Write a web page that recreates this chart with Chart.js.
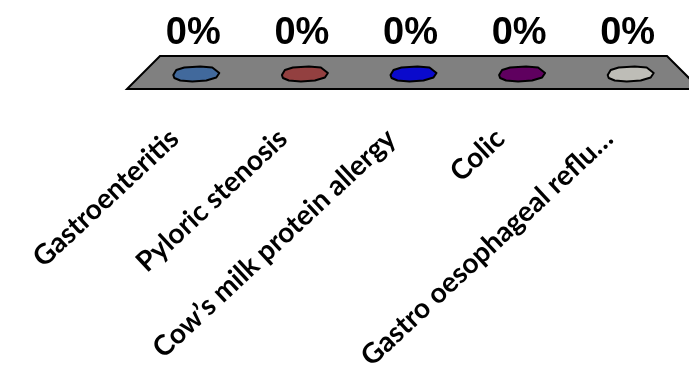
<!DOCTYPE html>
<html>
<head>
<meta charset="utf-8">
<script src="https://cdn.jsdelivr.net/npm/chart.js@4.4.1/dist/chart.umd.min.js"></script>
<style>
  html, body { margin: 0; padding: 0; background: #ffffff; }
  #wrap { width: 689px; height: 376px; position: relative; }
</style>
</head>
<body>
<div id="wrap"><canvas id="chart"></canvas></div>
<script>
// Poll answers and their share of votes (percent)
const categories = [
  "Gastroenteritis",
  "Pyloric stenosis",
  "Cow\u2019s milk protein allergy",
  "Colic",
  "Gastro oesophageal reflu\u2026"
];
const votes = [0, 0, 0, 0, 0];
const barColors = ["#41699c", "#934040", "#0a0acc", "#5f005f", "#bebdb7"];

// Outline of the flat bar top that sits on the floor (offsets from bar centre)
const TOP_SHAPE = [
  [-23, 1], [-20, -4], [-12, -6.5], [4, -7.5], [16, -6.5], [23, -1],
  [20, 3.5], [10, 6.5], [-4, 7.5], [-16, 6.5], [-22, 4]
];

// Floor of the 3-D plot plus flat bar tops and percentage labels
const floorPlugin = {
  id: 'floor3d',
  beforeDatasetsDraw(chart) {
    const { ctx, chartArea } = chart;
    const base = chart.scales.y.getPixelForValue(0);
    const back = 18, front = 15;
    ctx.save();
    ctx.beginPath();
    ctx.moveTo(chartArea.left + back, base - back);
    ctx.lineTo(chartArea.right - back, base - back);
    ctx.lineTo(chartArea.right + front, base + front);
    ctx.lineTo(chartArea.left - front, base + front);
    ctx.closePath();
    ctx.fillStyle = '#808080';
    ctx.fill();
    ctx.lineWidth = 2;
    ctx.strokeStyle = '#000000';
    ctx.lineJoin = 'miter';
    ctx.stroke();
    ctx.restore();
  },
  afterDatasetsDraw(chart) {
    const { ctx } = chart;
    const meta = chart.getDatasetMeta(0);
    const ds = chart.data.datasets[0];
    ctx.save();
    meta.data.forEach((bar, i) => {
      const cx = bar.x, cy = bar.y;
      ctx.beginPath();
      TOP_SHAPE.forEach(([dx, dy], k) => {
        if (k === 0) ctx.moveTo(cx + dx, cy + dy);
        else ctx.lineTo(cx + dx, cy + dy);
      });
      ctx.closePath();
      ctx.fillStyle = barColors[i];
      ctx.fill();
      ctx.lineWidth = 2;
      ctx.lineJoin = 'round';
      ctx.strokeStyle = '#000000';
      ctx.stroke();

      ctx.fillStyle = '#000000';
      ctx.font = 'bold 38px "Liberation Sans", Arial, sans-serif';
      ctx.textAlign = 'center';
      ctx.textBaseline = 'alphabetic';
      ctx.fillText(ds.data[i] + '%', cx - 3, cy - 30);
    });
    ctx.restore();
  }
};

new Chart(document.getElementById('chart'), {
  type: 'bar',
  data: {
    labels: categories,
    datasets: [{
      data: votes,
      backgroundColor: barColors,
      borderWidth: 0
    }]
  },
  options: {
    responsive: true,
    maintainAspectRatio: false,
    animation: false,
    layout: { padding: { left: 142, right: 4, top: 0, bottom: 0 } },
    plugins: {
      legend: { display: false },
      tooltip: { enabled: false }
    },
    scales: {
      x: {
        offset: true,
        grid: { display: false, drawTicks: false },
        border: { display: false },
        ticks: {
          autoSkip: false,
          minRotation: 43,
          maxRotation: 43,
          padding: 48,
          labelOffset: -22,
          color: '#000000',
          font: { family: 'Lato', weight: 'bold', size: 28 }
        },
        afterFit(scale) {
          scale.height = 302;
          scale.paddingLeft = 0;
          scale.paddingRight = 0;
        }
      },
      y: {
        display: false,
        min: 0,
        max: 100
      }
    }
  },
  plugins: [floorPlugin]
});
</script>
</body>
</html>
